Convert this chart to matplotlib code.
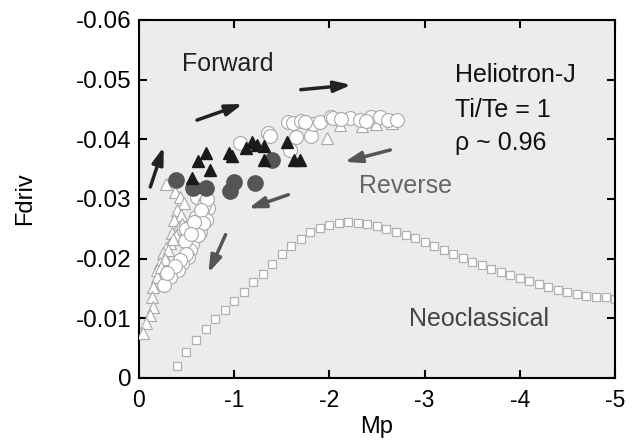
# Fdriv vs Mp scatter, Heliotron-J
import numpy as np
import matplotlib.pyplot as plt

plt.rcParams['font.family'] = ['Liberation Sans', 'DejaVu Sans']

# neoclassical curve (open squares)
neo_mp = [-0.4, -0.5, -0.6, -0.7, -0.8, -0.9, -1.0, -1.1, -1.2, -1.3,
          -1.4, -1.5, -1.6, -1.7, -1.8, -1.9, -2.0, -2.1, -2.2, -2.3,
          -2.4, -2.5, -2.6, -2.7, -2.8, -2.9, -3.0, -3.1, -3.2, -3.3,
          -3.4, -3.5, -3.6, -3.7, -3.8, -3.9, -4.0, -4.1, -4.2, -4.3,
          -4.4, -4.5, -4.6, -4.7, -4.8, -4.9, -5.0]
neo_f = [-0.0020, -0.0043, -0.0063, -0.0082, -0.0098, -0.0114, -0.0129, -0.0144, -0.0160, -0.0174,
         -0.0191, -0.0207, -0.0221, -0.0233, -0.0244, -0.0251, -0.0256, -0.0260, -0.0261, -0.0260,
         -0.0258, -0.0254, -0.0250, -0.0245, -0.0240, -0.0234, -0.0228, -0.0221, -0.0215, -0.0207,
         -0.0201, -0.0194, -0.0189, -0.0183, -0.0178, -0.0173, -0.0168, -0.0163, -0.0158, -0.0153,
         -0.0147, -0.0144, -0.0140, -0.0138, -0.0136, -0.0135, -0.0133]

# open circles
oc_mp = [-1.06, -1.36, -1.38, -1.57, -1.59, -1.62, -1.65, -1.70, -1.81, -1.83,
         -1.90, -2.02, -2.04, -2.22, -2.32, -2.44, -2.53, -2.62, -2.71, -1.74, -2.12, -2.38,
         -0.61, -0.69, -0.73, -0.66, -0.70, -0.63, -0.64, -0.59, -0.56, -0.54,
         -0.52, -0.45, -0.41, -0.33, -0.26, -0.68, -0.60, -0.50, -0.48,
         -0.72, -0.65, -0.67, -0.58, -0.62, -0.55, -0.49, -0.43, -0.38, -0.30]
oc_f = [-0.0394, -0.0411, -0.0406, -0.0429, -0.0382, -0.0427, -0.0404, -0.0431, -0.0406, -0.0426,
        -0.0429, -0.0437, -0.0436, -0.0436, -0.0432, -0.0437, -0.0437, -0.0432, -0.0432, -0.0428, -0.0434, -0.0430,
        -0.0303, -0.0295, -0.0285, -0.0277, -0.0265, -0.0256, -0.0245, -0.0236, -0.0225, -0.0214,
        -0.0203, -0.0193, -0.0181, -0.0169, -0.0156, -0.0290, -0.0270, -0.0250, -0.0230,
        -0.0300, -0.0282, -0.0260, -0.0262, -0.0240, -0.0242, -0.0208, -0.0198, -0.0187, -0.0175]

# open triangles
ot_mp = [-0.29, -0.38, -0.43, -0.47, -0.40, -0.44, -0.37, -0.41, -0.35, -0.33,
         -0.28, -0.25, -0.22, -0.19, -0.19, -0.15, -0.14, -0.15, -0.12, -0.07, -0.04,
         -0.45, -0.39, -0.36, -0.31, -0.27, -0.23,
         -1.98, -2.11, -2.34, -2.66, -2.49]
ot_f = [-0.0325, -0.0312, -0.0303, -0.0293, -0.0282, -0.0273, -0.0265, -0.0251, -0.0243, -0.0226,
        -0.0218, -0.0209, -0.0193, -0.0181, -0.0169, -0.0153, -0.0136, -0.0119, -0.0106, -0.0092, -0.0075,
        -0.0258, -0.0238, -0.0232, -0.0214, -0.0200, -0.0186,
        -0.0402, -0.0424, -0.0422, -0.0427, -0.0425]

# filled triangles
ft_mp = [-0.56, -0.62, -0.71, -0.75, -0.95, -0.98, -1.13, -1.19, -1.24, -1.31, -1.31, -1.56, -1.63, -1.69]
ft_f = [-0.0335, -0.0364, -0.0377, -0.0349, -0.0377, -0.0372, -0.0385, -0.0396, -0.0390, -0.0389,
        -0.0365, -0.0396, -0.0365, -0.0365]

# filled grey circles
gc_mp = [-0.39, -0.57, -0.71, -1.00, -0.96, -1.22, -1.40]
gc_f = [-0.0332, -0.0318, -0.0318, -0.0328, -0.0313, -0.0327, -0.0365]

fig = plt.figure(figsize=(6.4, 4.41), dpi=100)
ax = fig.add_axes([0.217, 0.143, 0.744, 0.812])
ax.set_facecolor('#ececec')

ax.plot(neo_mp, neo_f, 's', ms=6, mfc='white', mec='#b0b0b0', mew=0.9, ls='none', zorder=2)
ax.plot(ot_mp, ot_f, '^', ms=9, mfc='white', mec='#a8a8a8', mew=0.8, ls='none', zorder=3)
ax.plot(oc_mp, oc_f, 'o', ms=10, mfc='white', mec='#a8a8a8', mew=0.8, ls='none', zorder=3)
ax.plot(gc_mp, gc_f, 'o', ms=11, mfc='#555555', mec='#555555', ls='none', zorder=4)
ax.plot(ft_mp, ft_f, '^', ms=9, mfc='#1a1a1a', mec='#1a1a1a', ls='none', zorder=5)

# arrows: forward (black) and reverse (grey)
fwd = [((-0.12, -0.0320), (-0.26, -0.0387)),
       ((-0.61, -0.0432), (-1.09, -0.0459)),
       ((-1.70, -0.0483), (-2.23, -0.0491))]
rev = [((-2.64, -0.0382), (-2.16, -0.0362)),
       ((-1.57, -0.0307), (-1.15, -0.0284)),
       ((-0.91, -0.0240), (-0.73, -0.0176))]
for (x0, y0), (x1, y1) in fwd:
    ax.annotate('', xy=(x1, y1), xytext=(x0, y0),
                arrowprops=dict(arrowstyle='-|>,head_length=1.0,head_width=0.33',
                                color='#222222', lw=2.5, shrinkA=0, shrinkB=0), zorder=6)
for (x0, y0), (x1, y1) in rev:
    ax.annotate('', xy=(x1, y1), xytext=(x0, y0),
                arrowprops=dict(arrowstyle='-|>,head_length=1.0,head_width=0.33',
                                color='#555555', lw=2.5, shrinkA=0, shrinkB=0), zorder=6)

ax.text(-0.93, -0.0526, 'Forward', fontsize=18, color='#222222', ha='center', va='center')
ax.text(-3.32, -0.0508, 'Heliotron-J', fontsize=18, color='#111111', ha='left', va='center')
ax.text(-3.32, -0.0449, 'Ti/Te = 1', fontsize=18, color='#111111', ha='left', va='center')
ax.text(-3.32, -0.0394, 'ρ ~ 0.96', fontsize=18, color='#111111', ha='left', va='center')
ax.text(-2.31, -0.0322, 'Reverse', fontsize=18, color='#666666', ha='left', va='center')
ax.text(-2.84, -0.0099, 'Neoclassical', fontsize=18, color='#444444', ha='left', va='center')

ax.set_xlim(0, -5)
ax.set_ylim(0, -0.06)
ax.set_xticks([0, -1, -2, -3, -4, -5])
ax.set_xticklabels(['0', '-1', '-2', '-3', '-4', '-5'])
ax.set_yticks([0, -0.01, -0.02, -0.03, -0.04, -0.05, -0.06])
ax.set_yticklabels(['0', '-0.01', '-0.02', '-0.03', '-0.04', '-0.05', '-0.06'])
ax.tick_params(direction='in', length=6, width=1.5, top=True, right=True)
ax.tick_params(axis='y', labelsize=17.5, pad=5)
ax.tick_params(axis='x', labelsize=16.5, pad=8)
for s in ax.spines.values():
    s.set_linewidth(1.5)

ax.set_xlabel('Mp', fontsize=17)
ax.set_ylabel('Fdriv', fontsize=17)
ax.xaxis.set_label_coords(0.5, -0.105)
ax.yaxis.set_label_coords(-0.215, 0.5)

fig.savefig('out.png', dpi=100)
